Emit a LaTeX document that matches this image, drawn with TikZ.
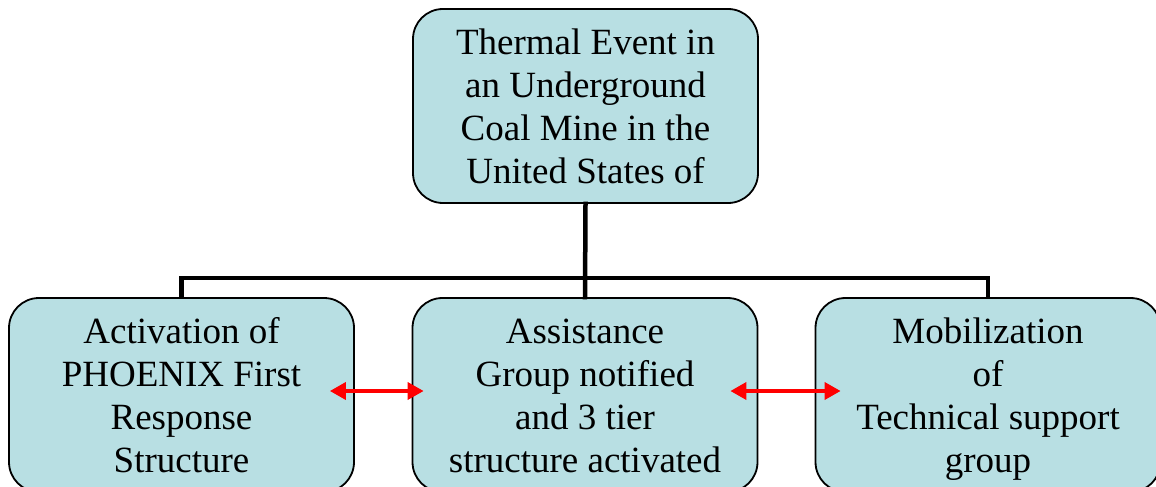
\documentclass[tikz,border=0pt]{standalone}
\usepackage{fontspec}
\setmainfont{Liberation Serif}
\usetikzlibrary{arrows.meta}
\definecolor{boxfill}{RGB}{184,223,227}
\newcommand{\toprule}{\rule{0pt}{39pt}}
\tikzset{
  orgbox/.style={draw=black, line width=1.8pt, fill=boxfill, rounded corners=30pt,
    minimum width=345pt, minimum height=194pt, inner sep=0pt, align=center,
    font=\fontsize{37}{43}\selectfont},
  tree/.style={line width=4.5pt, line cap=rect},
  redarrow/.style={draw=red, line width=3.6pt, {Triangle[length=16pt,width=17pt]}-{Triangle[length=16pt,width=17pt]}}
}
\begin{document}
\begin{tikzpicture}[x=1pt,y=-1pt]
\useasboundingbox (0,0) rectangle (1156,487);
\clip (0,0) rectangle (1156,487);
\node[orgbox] (T) at (585.5,106) {\toprule Thermal Event in\\an Underground\\Coal Mine in the\\United States of\strut};
\node[orgbox] (L) at (181.5,395) {\toprule Activation of\\PHOENIX First\\Response\\Structure\strut};
\node[orgbox] (M) at (585,395) {\toprule Assistance\\Group notified\\and 3 tier\\structure activated\strut};
\node[orgbox] (R) at (988,395) {\toprule Mobilization\\of\\Technical support\\group\strut};
\coordinate (J) at (585,278);
\draw[tree] (T.south) -- (M.north);
\draw[tree] (L.north) -- (L.north |- J) -- (R.north |- J) -- (R.north);
\draw[redarrow] ([shift={(-25pt,4pt)}]L.east) -- ([shift={(12pt,4pt)}]M.west);
\draw[redarrow] ([shift={(-28pt,4pt)}]M.east) -- ([shift={(26pt,4pt)}]R.west);
\end{tikzpicture}
\end{document}
